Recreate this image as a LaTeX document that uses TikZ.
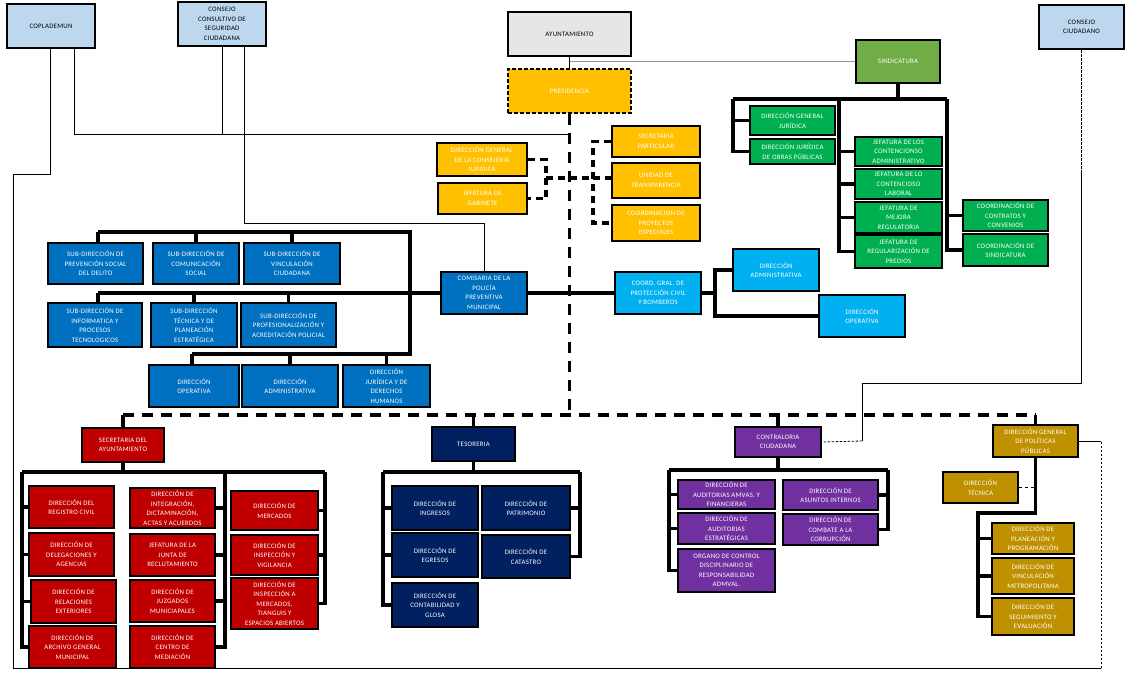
\documentclass[tikz,border=0pt]{standalone}
\usepackage{fontspec}
\newfontfamily\orgfont{Carlito}[LetterSpace=4]

\definecolor{boxSky}{RGB}{189,215,238}
\definecolor{boxGray}{RGB}{231,230,230}
\definecolor{boxOlive}{RGB}{112,173,71}
\definecolor{boxGreen}{RGB}{0,176,80}
\definecolor{boxAmber}{RGB}{255,192,0}
\definecolor{boxBlue}{RGB}{0,112,192}
\definecolor{boxCyan}{RGB}{0,176,240}
\definecolor{boxRed}{RGB}{192,0,0}
\definecolor{boxNavy}{RGB}{0,32,96}
\definecolor{boxPurple}{RGB}{112,48,160}
\definecolor{boxGold}{RGB}{191,144,0}
\definecolor{lineSlate}{RGB}{132,151,176}

\begin{document}
\begin{tikzpicture}[x=1pt,y=-1pt,
  orgbox/.style={draw=black,line width=2.2pt,align=center,inner sep=1pt,text=white,
    font=\orgfont\fontsize{6.8}{9.5}\selectfont},
  sz/.style 2 args={minimum width=#1,minimum height=#2},
  skybox/.style={orgbox,fill=boxSky,text=black},
  graybox/.style={orgbox,fill=boxGray,text=black},
  olivebox/.style={orgbox,fill=boxOlive},
  greenbox/.style={orgbox,fill=boxGreen},
  amberbox/.style={orgbox,fill=boxAmber},
  bluebox/.style={orgbox,fill=boxBlue},
  cyanbox/.style={orgbox,fill=boxCyan},
  redbox/.style={orgbox,fill=boxRed},
  navybox/.style={orgbox,fill=boxNavy},
  purplebox/.style={orgbox,fill=boxPurple},
  goldbox/.style={orgbox,fill=boxGold},
  bar/.style={line width=3.8pt},
  mainDash/.style={line width=3.8pt,dash pattern=on 11pt off 8pt},
  subDash/.style={line width=3.2pt,dash pattern=on 7pt off 5pt},
  fine/.style={line width=0.8pt},
  fineDash/.style={line width=0.8pt,dash pattern=on 2.5pt off 1.5pt}]
  \useasboundingbox[fill=white] (0,0) rectangle (1137,680);

  % Top level
  \node[skybox,sz={88}{44}] (copla) at (51,26) {COPLADEMUN};
  \node[skybox,sz={88}{44}] (ccsc) at (222,24) {CONSEJO\\CONSULTIVO DE\\SEGURIDAD\\CIUDADANA};
  \node[graybox,sz={123}{44}] (ayto) at (569.5,34) {AYUNTAMIENTO};
  \node[amberbox,sz={123}{44},dash pattern=on 4pt off 2pt] (presi) at (569.5,91) {PRESIDENCIA};
  \node[skybox,sz={85}{44}] (ccd) at (1081.5,27) {CONSEJO\\CIUDADANO};
  \node[olivebox,sz={84}{43}] (sind) at (898,61.5) {SINDICATURA};

  % Presidencia staff
  \node[amberbox,sz={90}{33}] (dgcj) at (482,159.5) {DIRECCIÓN GENERAL\\DE LA CONSEJERIA\\JURIDICA};
  \node[amberbox,sz={89}{31}] (jgab) at (482.5,198.5) {JEFATURA DE\\GABINETE};
  \node[amberbox,sz={88}{31}] (secp) at (656,141.5) {SECRETARIA\\PARTICULAR};
  \node[amberbox,sz={88}{35}] (utra) at (656,180.5) {UNIDAD DE\\TRANSPARENCIA};
  \node[amberbox,sz={88}{36}] (cpe) at (656,223) {COORDINACION DE\\PROYECTOS\\ESPECIALES};

  % Sindicatura
  \node[greenbox,sz={85}{29}] (dgj) at (792.5,120.5) {DIRECCIÓN GENERAL\\JURÍDICA};
  \node[greenbox,sz={85}{25}] (djop) at (792.5,151.5) {DIRECCIÓN JURÍDICA\\DE OBRAS PÚBLICAS};
  \node[greenbox,sz={87}{29}] (jca) at (898.5,151.5) {JEFATURA DE LOS\\CONTENCIONSO\\ADMINISTRATIVO};
  \node[greenbox,sz={87}{30}] (jcl) at (898.5,184) {JEFATURA DE LO\\CONTENCIOSO\\LABORAL};
  \node[greenbox,sz={87}{31}] (jmr) at (898.5,217.5) {JEFATURA DE\\MEJORA\\REGULATORIA};
  \node[greenbox,sz={87}{33}] (jrp) at (898.5,251.5) {JEFATURA DE\\REGULARIZACIÓN DE\\PREDIOS};
  \node[greenbox,sz={85}{31}] (ccc) at (1005.5,215.5) {COORDINACIÓN DE\\CONTRATOS Y\\CONVENIOS};
  \node[greenbox,sz={85}{32}] (csi) at (1005.5,250) {COORDINACIÓN DE\\SINDICATURA};

  % Comisaria
  \node[bluebox,sz={95}{41}] (sd1) at (95.5,263.5) {SUB-DIRECCIÓN DE\\PREVENCIÓN SOCIAL\\DEL DELITO};
  \node[bluebox,sz={86}{41}] (sd2) at (196,263.5) {SUB-DIRECCIÓN DE\\COMUNICACIÓN\\SOCIAL};
  \node[bluebox,sz={96}{41}] (sd3) at (292,263.5) {SUB-DIRECCIÓN DE\\VINCULACIÓN\\CIUDADANA};
  \node[bluebox,sz={94}{44}] (sd4) at (95,325) {SUB-DIRECCIÓN DE\\INFORMATICA Y\\PROCESOS\\TECNOLOGICOS};
  \node[bluebox,sz={86}{44}] (sd5) at (194,325) {SUB-DIRECCIÓN\\TÉCNICA Y DE\\PLANEACIÓN\\ESTRATÉGICA};
  \node[bluebox,sz={95}{44}] (sd6) at (288.5,325) {SUB-DIRECCIÓN DE\\PROFESIONALIZACIÓN Y\\ACREDITACIÓN POLICIAL};
  \node[bluebox,sz={90}{42}] (dop) at (194,386) {DIRECCIÓN\\OPERATIVA};
  \node[bluebox,sz={96}{42}] (dadm) at (290,386) {DIRECCIÓN\\ADMINISTRATIVA};
  \node[bluebox,sz={87}{42}] (djdh) at (386.5,386) {DIRECCIÓN\\JURÍDICA Y DE\\DERECHOS\\HUMANOS};
  \node[bluebox,sz={86}{42}] (comi) at (484,293) {COMISARIA DE LA\\POLICÍA\\PREVENTIVA\\MUNICIPAL};

  % Proteccion civil
  \node[cyanbox,sz={86}{42}] (cgpc) at (658,293) {COORD. GRAL. DE\\PROTECCIÓN CIVIL\\Y BOMBEROS};
  \node[cyanbox,sz={86}{42}] (pcadm) at (776,270) {DIRECCIÓN\\ADMINISTRATIVA};
  \node[cyanbox,sz={86}{42}] (pcop) at (862,316) {DIRECCIÓN\\OPERATIVA};

  % Secretaria del Ayuntamiento
  \node[redbox,sz={82}{34}] (sec) at (123,445) {SECRETARIA DEL\\AYUNTAMIENTO};
  \node[redbox,sz={85}{42}] (r1) at (71.5,507) {DIRECCIÓN DEL\\REGISTRO CIVIL};
  \node[redbox,sz={85}{43}] (r2) at (71.5,554.5) {DIRECCIÓN DE\\DELEGACIONES Y\\AGENCIAS};
  \node[redbox,sz={85}{43}] (r3) at (73.5,601.5) {DIRECCIÓN DE\\RELACIONES\\EXTERIORES};
  \node[redbox,sz={87}{42}] (r4) at (72.5,647) {DIRECCIÓN DE\\ARCHIVO GENERAL\\MUNICIPAL};
  \node[redbox,sz={85}{40}] (m1) at (172.5,508) {DIRECCIÓN DE\\INTEGRACIÓN,\\DICTAMINACIÓN,\\ACTAS Y ACUERDOS};
  \node[redbox,sz={85}{42}] (m2) at (172.5,555) {JEFATURA DE LA\\JUNTA DE\\RECLUTAMIENTO};
  \node[redbox,sz={85}{42}] (m3) at (172.5,601) {DIRECCIÓN DE\\JUZGADOS\\MUNICIAPALES};
  \node[redbox,sz={85}{42}] (m4) at (172.5,647) {DIRECCIÓN DE\\CENTRO DE\\MEDIACIÓN};
  \node[redbox,sz={87}{39}] (k1) at (274.5,510.5) {DIRECCIÓN DE\\MERCADOS};
  \node[redbox,sz={87}{40}] (k2) at (274.5,555) {DIRECCIÓN DE\\INSPECCIÓN Y\\VIGILANCIA};
  \node[redbox,sz={87}{51}] (k3) at (274.5,603.5) {DIRECCIÓN DE\\INSPECCIÓN A\\MERCADOS,\\TIANGUIS Y\\ESPACIOS ABIERTOS};

  % Tesoreria
  \node[navybox,sz={83}{34}] (tes) at (473.5,444) {TESORERIA};
  \node[navybox,sz={86}{44}] (n1) at (435,508) {DIRECCIÓN DE\\INGRESOS};
  \node[navybox,sz={88}{44}] (n2) at (526,508) {DIRECCIÓN DE\\PATRIMONIO};
  \node[navybox,sz={86}{44}] (n3) at (435,555) {DIRECCIÓN DE\\EGRESOS};
  \node[navybox,sz={88}{43}] (n4) at (526,556.5) {DIRECCIÓN DE\\CATASTRO};
  \node[navybox,sz={86}{44}] (n5) at (435,605) {DIRECCIÓN DE\\CONTABILIDAD Y\\GLOSA};

  % Contraloria
  \node[purplebox,sz={86}{30}] (con) at (778,442) {CONTRALORIA\\CIUDADANA};
  \node[purplebox,sz={97}{29}] (p1) at (726.5,494.5) {DIRECCIÓN DE\\AUDITORIAS AMVAS. Y\\FINANCIERAS};
  \node[purplebox,sz={97}{31}] (p2) at (726.5,528.5) {DIRECCIÓN DE\\AUDITORIAS\\ESTRATÉGICAS};
  \node[purplebox,sz={97}{43}] (p3) at (726.5,570.5) {ORGANO DE CONTROL\\DISCIPLINARIO DE\\RESPONSABILIDAD\\ADMVAL.};
  \node[purplebox,sz={95}{30}] (p4) at (830.5,495) {DIRECCIÓN DE\\ASUNTOS INTERNOS};
  \node[purplebox,sz={95}{31}] (p5) at (830.5,529.5) {DIRECCIÓN DE\\COMBATE A LA\\CORRUPCIÓN};

  % Politicas publicas
  \node[goldbox,sz={85}{32}] (dgpp) at (1035.5,441) {DIRECCIÓN GENERAL\\DE POLÍTICAS\\PÚBLICAS};
  \node[goldbox,sz={75}{31}] (dtec) at (980.5,487.5) {DIRECCIÓN\\TÉCNICA};
  \node[goldbox,sz={82}{31}] (g1) at (1033,538.5) {DIRECCIÓN DE\\PLANEACIÓN Y\\PROGRAMACIÓN};
  \node[goldbox,sz={82}{36}] (g2) at (1033,576) {DIRECCIÓN DE\\VINCULACIÓN\\METROPOLITANA};
  \node[goldbox,sz={82}{37}] (g3) at (1033,616.5) {DIRECCIÓN DE\\SEGUIMIENTO Y\\EVALUACIÓN};

  % Thin lines of the councils
  \coordinate (ap) at (569.5,61);
  \coordinate (cp1) at (74,134);
  \coordinate (cq1) at (50,174);
  \coordinate (cq2) at (13,174);
  \coordinate (cq3) at (13,668);
  \coordinate (cq4) at (1101,668);
  \coordinate (cq5) at (1101,441);
  \coordinate (cs1) at (244,223);
  \coordinate (cc0) at (1081.5,170);
  \coordinate (cc1) at (1081.5,383);
  \coordinate (cc2) at (862,383);
  \coordinate (cc3) at (862,441);
  \draw[fine] (ayto) -- (presi);
  \draw[fine,lineSlate] (ap) -- (sind.west |- ap);
  \draw[fine] (cp1 |- copla.south) -- (cp1) -- (cp1 -| presi.south);
  \draw[fine] (ccsc.south -| 222,0) -- (cp1 -| 222,0);
  \draw[fine] (cs1 |- ccsc.south) -- (cs1) -| (comi.north);
  \draw[fine] (cq1 |- copla.south) -- (cq1) -- (cq2) -- (cq3) -- (cq4);
  \draw[fineDash] (cq4) -- (cq5);
  \draw[fine] (cq5) -- (dgpp.east);
  \draw[fineDash] (ccd.south) -- (cc0);
  \draw[fine] (cc0) -- (cc1) -- (cc2) -- (cc3);
  \draw[fineDash] (cc3) -- (con.east);

  % Dashed lines of Presidencia
  \coordinate (dMid) at (569.5,415);
  \coordinate (dLeft) at (123,415);
  \coordinate (dRight) at (1035.5,415);
  \coordinate (yl) at (546,178);
  \coordinate (ym) at (569.5,178);
  \coordinate (yr) at (593,178);
  \draw[mainDash] (presi.south) -- (dMid);
  \draw[mainDash] (dLeft) -- (dRight);
  \draw[subDash] (dgcj.east) -| (yl) |- (jgab.east);
  \draw[subDash] (yl) -- (ym) -- (yr);
  \draw[subDash] (secp.west) -| (yr) |- (cpe.west);
  \draw[subDash] (yr) -- (utra.west |- yr);

  % Sindicatura bars
  \coordinate (sL) at (733,99);
  \coordinate (sM) at (839,99);
  \coordinate (sR) at (947,99);
  \draw[bar] (sind) -- (sind |- sL);
  \draw[bar] (sL) -- (sR);
  \draw[bar] (sL) |- (djop.west);
  \draw[bar] (sL |- dgj) -- (dgj.west);
  \draw[bar] (sM) |- (jrp.west);
  \foreach \j in {jca,jcl,jmr}
    \draw[bar] (sM |- \j) -- (\j.west);
  \draw[bar] (sR) |- (csi.west);
  \draw[bar] (sR |- ccc) -- (ccc.west);

  % Comisaria bars
  \coordinate (b1L) at (98,232);
  \coordinate (b1R) at (410,232);
  \coordinate (b2L) at (98,293);
  \coordinate (b3L) at (192,354);
  \coordinate (b3R) at (410,354);
  \draw[bar] (b1L) -- (b1R) -- (b3R) -- (b3L);
  \draw[bar] (b1L) -- (b1L |- sd1.north);
  \draw[bar] (sd2.north |- b1L) -- (sd2.north);
  \draw[bar] (sd3.north |- b1L) -- (sd3.north);
  \draw[bar] (b2L) -- (comi.west);
  \draw[bar] (b2L) -- (b2L |- sd4.north);
  \draw[bar] (sd5.north |- b2L) -- (sd5.north);
  \draw[bar] (sd6.north |- b2L) -- (sd6.north);
  \draw[bar] (b3L) -- (b3L |- dop.north);
  \draw[bar] (dadm.north |- b3L) -- (dadm.north);
  \draw[bar] (djdh.north |- b3L) -- (djdh.north);

  % Proteccion civil bars
  \coordinate (pcx) at (715,293);
  \draw[bar] (comi.east) -- (cgpc.west);
  \draw[bar] (cgpc.east) -- (pcx);
  \draw[bar] (pcadm.west) -| (pcx) |- (pcop.west);

  % Secretaria bars
  \coordinate (rL) at (22,472);
  \coordinate (rM) at (225,472);
  \coordinate (rR) at (325,472);
  \draw[bar] (dLeft) -- (sec.north);
  \draw[bar] (sec) -- (sec |- rL);
  \draw[bar] (rL) -- (rR);
  \draw[bar] (rL) |- (r4.west);
  \foreach \r in {r1,r2,r3}
    \draw[bar] (rL |- \r) -- (\r.west);
  \draw[bar] (rM) |- (m4.east);
  \foreach \r in {m1,m2,m3}
    \draw[bar] (rM |- \r) -- (\r.east);
  \draw[bar] (rR) |- (k3.east);
  \foreach \r in {k1,k2}
    \draw[bar] (rR |- \r) -- (\r.east);

  % Tesoreria bars
  \coordinate (tL) at (383,472);
  \coordinate (tR) at (580,472);
  \draw[bar] (tes.north |- dLeft) -- (tes.north);
  \draw[bar] (tes) -- (tes |- tL);
  \draw[bar] (tL) -- (tR);
  \draw[bar] (tL) |- (n5.west);
  \foreach \t in {n1,n3}
    \draw[bar] (tL |- \t) -- (\t.west);
  \draw[bar] (tR) |- (n4.east);
  \draw[bar] (tR |- n2) -- (n2.east);

  % Contraloria bars
  \coordinate (cL) at (669,470);
  \coordinate (cR) at (888,470);
  \draw[bar] (con.north |- dLeft) -- (con.north);
  \draw[bar] (con) -- (con |- cL);
  \draw[bar] (cL) -- (cR);
  \draw[bar] (cL) |- (p3.west);
  \foreach \p in {p1,p2}
    \draw[bar] (cL |- \p) -- (\p.west);
  \draw[bar] (cR) |- (p5.east);
  \draw[bar] (cR |- p4) -- (p4.east);

  % Politicas publicas bars
  \coordinate (gA) at (1035.5,513);
  \coordinate (gB) at (978,513);
  \draw[bar] (dRight) -- (dgpp.north);
  \draw[bar] (dgpp) -- (gA) -- (gB) |- (g3.west);
  \foreach \g in {g1,g2}
    \draw[bar] (gB |- \g) -- (\g.west);
  \draw[line width=1pt,dashed] (dtec.east) -- (dtec.east -| gA);
\end{tikzpicture}
\end{document}
